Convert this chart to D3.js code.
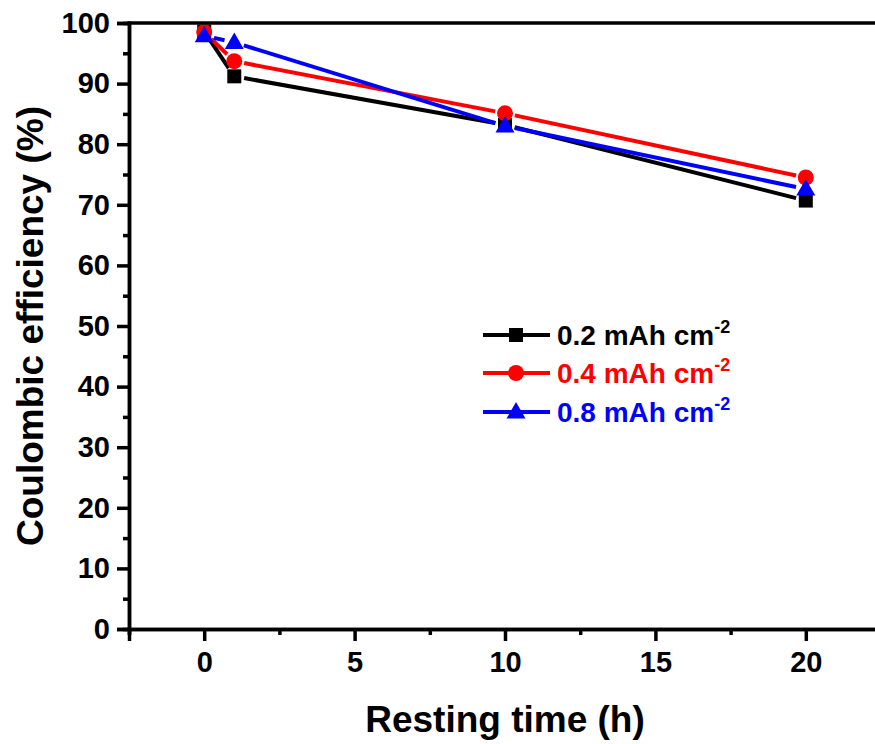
<!DOCTYPE html>
<html>
<head>
<meta charset="utf-8">
<script src="https://cdn.jsdelivr.net/npm/d3@7"></script>
<style>
  body { margin: 0; background: #fff; }
  svg { display: block; font-family: "Liberation Sans", Arial, sans-serif; font-weight: bold; }
</style>
</head>
<body>
<div class="canva"></div>
<script>
// data
var times = [0, 1, 10, 20];
var ce02 = [98.6, 91.2, 83.2, 70.7];
var ce04 = [98.5, 93.7, 85.1, 74.5];
var ce08 = [97.9, 96.8, 83.0, 72.6];
var seriesLabels = ["0.2 mAh cm", "0.4 mAh cm", "0.8 mAh cm"];
var xTicks = [0, 5, 10, 15, 20];
var xMinor = [-2.5, 2.5, 7.5, 12.5, 17.5, 22.5];
var yTicks = [0, 10, 20, 30, 40, 50, 60, 70, 80, 90, 100];
var yMinor = [5, 15, 25, 35, 45, 55, 65, 75, 85, 95];

var W = 875, H = 744;
var plotLeft = 129, plotTop = 23, plotBottom = 629, plotRight = 881;

var svg = d3.select(".canva").append("svg")
  .attr("width", W).attr("height", H);

var x = d3.scaleLinear().domain([-2.5, 22.5]).range([plotLeft, plotRight]);
var y = d3.scaleLinear().domain([0, 100]).range([plotBottom, plotTop]);

var series = [
  {name: seriesLabels[0], values: ce02, color: "#000000", shape: "square"},
  {name: seriesLabels[1], values: ce04, color: "#ff0000", shape: "circle"},
  {name: seriesLabels[2], values: ce08, color: "#0000ff", shape: "triangle"}
];

function marker(g, shape, cx, cy, color) {
  if (shape == "square") {
    g.append("rect").attr("x", cx - 7).attr("y", cy - 7)
      .attr("width", 14).attr("height", 14).attr("fill", color);
  } else if (shape == "circle") {
    g.append("circle").attr("cx", cx).attr("cy", cy).attr("r", 8).attr("fill", color);
  } else {
    g.append("path")
      .attr("d", "M" + cx + "," + (cy - 10) + "L" + (cx + 9.5) + "," + (cy + 6.5) + "L" + (cx - 9.5) + "," + (cy + 6.5) + "Z")
      .attr("fill", color);
  }
}

// lines with little gaps around the symbols, like Origin draws them
var gap = 10;
series.forEach(function(s) {
  var g = svg.append("g");
  for (var i = 0; i < times.length - 1; i++) {
    var x1 = x(times[i]), y1 = y(s.values[i]);
    var x2 = x(times[i + 1]), y2 = y(s.values[i + 1]);
    var len = Math.sqrt((x2 - x1) * (x2 - x1) + (y2 - y1) * (y2 - y1));
    var ux = (x2 - x1) / len, uy = (y2 - y1) / len;
    g.append("line")
      .attr("x1", x1 + ux * gap).attr("y1", y1 + uy * gap)
      .attr("x2", x2 - ux * gap).attr("y2", y2 - uy * gap)
      .attr("stroke", s.color).attr("stroke-width", 4);
  }
  for (var j = 0; j < times.length; j++) {
    marker(g, s.shape, x(times[j]), y(s.values[j]), s.color);
  }
});

// axes
var xAxis = svg.append("g").attr("transform", "translate(0," + plotBottom + ")")
  .call(d3.axisBottom(x).tickValues(xTicks).tickSize(12).tickPadding(10).tickFormat(d3.format("d")));
var xAxisMinor = svg.append("g").attr("transform", "translate(0," + plotBottom + ")")
  .call(d3.axisBottom(x).tickValues(xMinor).tickSize(6).tickFormat(""));
var yAxis = svg.append("g").attr("transform", "translate(" + plotLeft + ",0)")
  .call(d3.axisLeft(y).tickValues(yTicks).tickSize(12).tickPadding(7).tickFormat(d3.format("d")));
var yAxisMinor = svg.append("g").attr("transform", "translate(" + plotLeft + ",0)")
  .call(d3.axisLeft(y).tickValues(yMinor).tickSize(6).tickFormat(""));

[xAxis, xAxisMinor, yAxis, yAxisMinor].forEach(function(a) {
  a.attr("font-family", null).attr("font-size", null);
  a.select(".domain").attr("stroke-width", 3.5).attr("stroke", "#000");
  a.selectAll(".tick line").attr("stroke-width", 3.5).attr("stroke", "#000");
  a.selectAll("text").style("font-size", "29px").style("font-weight", "bold")
    .attr("fill", "#000");
});

// top frame line
svg.append("line")
  .attr("x1", plotLeft - 1.75).attr("x2", W)
  .attr("y1", plotTop).attr("y2", plotTop)
  .attr("stroke", "#000").attr("stroke-width", 3.5);

// axis titles
svg.append("text")
  .attr("x", 505).attr("y", 732)
  .attr("text-anchor", "middle").style("font-size", "37px")
  .text("Resting time (h)");
svg.append("text")
  .attr("transform", "translate(43," + ((plotTop + plotBottom) / 2) + ") rotate(-90)")
  .attr("text-anchor", "middle").style("font-size", "37px")
  .text("Coulombic efficiency (%)");

// legend
var legY = [335, 373, 412];
series.forEach(function(s, i) {
  var g = svg.append("g");
  g.append("line").attr("x1", 483).attr("x2", 550)
    .attr("y1", legY[i]).attr("y2", legY[i])
    .attr("stroke", s.color).attr("stroke-width", 4);
  marker(g, s.shape, 516, legY[i], s.color);
  var t = g.append("text").attr("x", 557).attr("y", legY[i] + 10)
    .style("font-size", "28px").attr("fill", s.color);
  t.append("tspan").text(s.name);
  t.append("tspan").attr("dy", -12).style("font-size", "18px").text("-2");
});
</script>
</body>
</html>
